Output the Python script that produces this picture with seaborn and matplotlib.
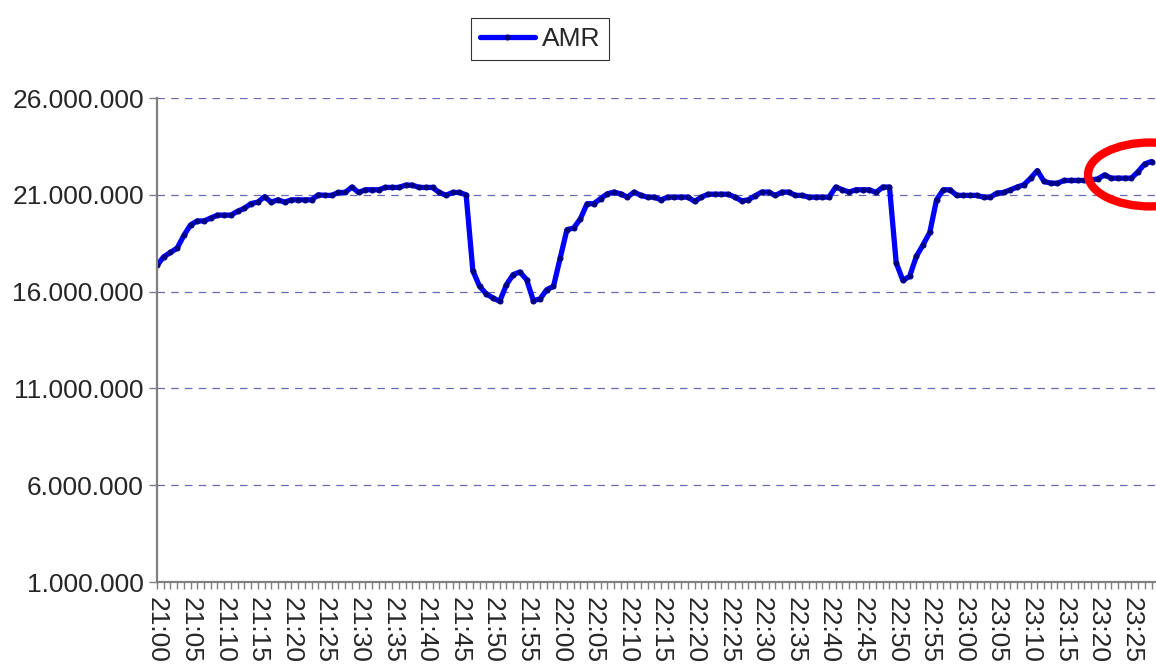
import matplotlib
matplotlib.use("Agg")
import matplotlib.pyplot as plt
from matplotlib.patches import Ellipse
from matplotlib.ticker import FuncFormatter, MultipleLocator
import numpy as np
import pandas as pd
import seaborn as sns

# one reading per minute, starting 21:00
START = "2000-01-01 21:00"
AMR = [
    17.35, 17.80, 18.02, 18.25, 18.90, 19.45, 19.65, 19.65, 19.80, 19.95,
    19.95, 19.95, 20.15, 20.30, 20.55, 20.62, 20.90, 20.62, 20.74, 20.62,
    20.74, 20.74, 20.74, 20.74, 21.00, 20.97, 20.97, 21.12, 21.12, 21.40,
    21.12, 21.26, 21.26, 21.26, 21.38, 21.38, 21.38, 21.50, 21.50, 21.38,
    21.38, 21.38, 21.12, 20.98, 21.12, 21.12, 21.00, 17.08, 16.27, 15.88,
    15.67, 15.50, 16.36, 16.88, 17.01, 16.62, 15.54, 15.62, 16.10, 16.27,
    17.74, 19.20, 19.28, 19.76, 20.54, 20.54, 20.80, 21.05, 21.14, 21.05,
    20.88, 21.14, 20.97, 20.88, 20.88, 20.74, 20.88, 20.88, 20.88, 20.88,
    20.66, 20.88, 21.03, 21.03, 21.03, 21.03, 20.88, 20.69, 20.74, 20.95,
    21.14, 21.14, 20.97, 21.14, 21.14, 20.97, 20.97, 20.88, 20.88, 20.88,
    20.88, 21.40, 21.26, 21.14, 21.26, 21.26, 21.26, 21.12, 21.40, 21.40,
    17.48, 16.58, 16.79, 17.82, 18.42, 19.06, 20.74, 21.26, 21.26, 20.97,
    20.97, 20.97, 20.97, 20.88, 20.88, 21.09, 21.12, 21.26, 21.40, 21.52,
    21.86, 22.25, 21.69, 21.60, 21.60, 21.74, 21.74, 21.74, 21.74, 21.77,
    21.82, 22.03, 21.86, 21.86, 21.86, 21.86, 22.20, 22.60, 22.72,
]
AMR = [v * 1e6 for v in AMR]
Y_TICKS = [1e6, 6e6, 11e6, 16e6, 21e6, 26e6]

times = pd.date_range(START, periods=len(AMR), freq="min")
df = pd.DataFrame({"minute": np.arange(len(AMR)), "AMR": AMR})
tick_labels = [t.strftime("%H:%M") for t in times[::5]]

sns.set_style("white")
plt.rcParams["font.family"] = ["Liberation Sans", "DejaVu Sans"]

fig = plt.figure(figsize=(11.56, 6.65), dpi=100)
ax = fig.add_axes([157 / 1156, 1 - 582 / 665, 999 / 1156, 484 / 665])

sns.lineplot(data=df, x="minute", y="AMR", ax=ax, color="#0000ff", lw=3.8,
             marker="o", markersize=3.6, markerfacecolor="#000080",
             markeredgecolor="#000080", label="AMR")

ax.set_xlim(0, 148.66)
ax.set_ylim(Y_TICKS[0], Y_TICKS[-1])
ax.set_yticks(Y_TICKS)
ax.yaxis.set_major_formatter(FuncFormatter(lambda v, p: f"{v:,.0f}".replace(",", ".")))
ax.set_xticks(np.arange(0, len(AMR), 5))
ax.set_xticklabels(tick_labels, rotation=-90, fontsize=19)
ax.xaxis.set_minor_locator(MultipleLocator(1))
ax.tick_params(axis="y", labelsize=19, length=6, width=1, color="#808080",
               direction="out", left=True)
ax.tick_params(axis="x", which="both", length=5, width=1, color="#808080",
               direction="out", bottom=True, pad=6)
ax.set_xlabel(""); ax.set_ylabel("")

ax.grid(axis="y", color="#6a6ab4", ls=(0, (6, 5)), lw=0.9)
ax.grid(axis="x", visible=False)
for s in ("top", "right"):
    ax.spines[s].set_visible(False)
for s in ("left", "bottom"):
    ax.spines[s].set_color("#808080")
    ax.spines[s].set_linewidth(1.6)

# red highlight ring around the end of the series
ax.add_patch(Ellipse((147.8, 22.05e6), 18.5, 3.3e6, fill=False,
                     edgecolor="#ff0000", lw=6, clip_on=False, zorder=5))

ax.get_legend().remove()
leg = fig.legend(loc="center", bbox_to_anchor=(540 / 1156, 1 - 39 / 665),
                 fontsize=19, frameon=True, fancybox=False, handlelength=2.1,
                 borderpad=0.35, handletextpad=0.25, borderaxespad=0)
leg.get_frame().set_edgecolor("black")
leg.get_frame().set_linewidth(0.8)

fig.savefig("out.png", dpi=100)
